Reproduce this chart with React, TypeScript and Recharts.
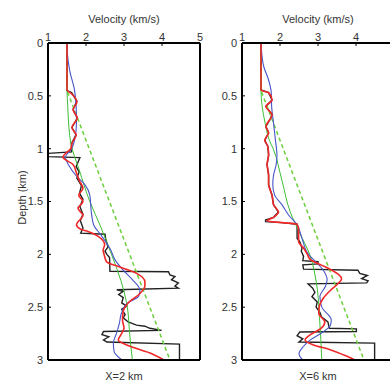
import React from 'react';
import { LineChart, Line, XAxis, YAxis, Label } from 'recharts';

// every point is [depth (km), velocity (km/s)]
type Pt = [number, number];

const velocityTicks = [1, 2, 3, 4, 5];
// the right panel is cut by the page edge just before its "5"
const velocityTicksCut = [1, 2, 3, 4];
const depthTicks = [0, 0.5, 1, 1.5, 2, 2.5, 3];

// X = 2 km
const x2Log: Pt[] = [
  [0, 1.5], [0.45, 1.5], [0.47, 1.62], [0.55, 1.76], [0.63, 1.66], [0.71, 1.77],
  [0.8, 1.63], [0.87, 1.74], [0.95, 1.62], [1.03, 1.62], [1.045, 1.0], [1.075, 1.0],
  [1.085, 1.84], [1.12, 1.8], [1.17, 1.74], [1.22, 1.82], [1.28, 1.76], [1.35, 1.88],
  [1.42, 1.83], [1.48, 1.92], [1.55, 1.84], [1.62, 1.92], [1.68, 1.85], [1.75, 1.92],
  [1.8, 1.86], [1.81, 2.5], [1.86, 2.52], [1.93, 2.58], [1.97, 2.5], [2.0, 2.55],
  [2.03, 2.62], [2.16, 2.63], [2.165, 4.17], [2.196, 4.21], [2.21, 4.34], [2.24, 4.25],
  [2.27, 4.43], [2.3, 4.34], [2.32, 4.43], [2.335, 2.81], [2.35, 2.98], [2.38, 2.86],
  [2.41, 2.98], [2.46, 2.94], [2.49, 3.07], [2.52, 2.94], [2.57, 3.03], [2.6, 2.98],
  [2.64, 3.11], [2.67, 3.33], [2.68, 3.55], [2.7, 3.68], [2.72, 3.99], [2.73, 2.46],
  [2.76, 2.42], [2.78, 2.6], [2.81, 2.46], [2.83, 2.55], [2.85, 4.46], [3.0, 4.46],
];
const x2Inverted: Pt[] = [
  [0, 1.5], [0.445, 1.5], [0.48, 1.62], [0.56, 1.76], [0.63, 1.66], [0.71, 1.77],
  [0.8, 1.63], [0.87, 1.74], [0.95, 1.63], [1.0, 1.6], [1.05, 1.45], [1.08, 1.39],
  [1.15, 1.66], [1.22, 1.74], [1.3, 1.82], [1.375, 1.92], [1.44, 1.81], [1.5, 1.92],
  [1.565, 1.79], [1.63, 1.92], [1.72, 1.75], [1.76, 1.85], [1.785, 2.05], [1.83, 2.32],
  [1.91, 2.49], [1.96, 2.45], [2.006, 2.48], [2.07, 2.54], [2.12, 2.89], [2.18, 3.33],
  [2.26, 3.55], [2.3, 3.55], [2.37, 3.42], [2.46, 3.11], [2.54, 2.98], [2.62, 2.96],
  [2.7, 3.0], [2.76, 2.92], [2.81, 2.85], [2.87, 3.16], [2.94, 3.73], [3.0, 4.05],
];
const x2Smooth: Pt[] = [
  [0, 1.5], [0.1, 1.51], [0.26, 1.57], [0.45, 1.7], [0.6, 1.74], [0.75, 1.75],
  [0.92, 1.7], [1.0, 1.62], [1.08, 1.46], [1.16, 1.55], [1.26, 1.75], [1.34, 1.97],
  [1.44, 2.1], [1.6, 2.14], [1.72, 2.2], [1.82, 2.4], [1.96, 2.65], [2.05, 2.76],
  [2.15, 2.98], [2.24, 3.22], [2.34, 3.42], [2.4, 3.38], [2.46, 3.1], [2.56, 2.93],
  [2.65, 2.88], [2.75, 2.8], [2.84, 2.72], [2.92, 2.74], [3.0, 2.95],
];
const x2Initial: Pt[] = [
  [0, 1.5], [0.45, 1.5], [0.6, 1.52], [0.8, 1.55], [0.95, 1.6], [1.2, 1.82],
  [1.5, 2.1], [1.75, 2.4], [2.0, 2.67], [2.25, 2.92], [2.46, 3.07], [2.8, 3.16],
  [3.0, 3.22],
];
const x2Trend: Pt[] = [[0, 1.5], [0.45, 1.5], [3.0, 4.21]];

// X = 6 km
const x6Log: Pt[] = [
  [0, 1.5], [0.445, 1.5], [0.47, 1.7], [0.54, 1.79], [0.6, 1.63], [0.68, 1.79],
  [0.72, 1.74], [0.79, 1.63], [0.85, 1.7], [0.92, 1.6], [0.98, 1.68], [1.06, 1.7],
  [1.15, 1.66], [1.25, 1.7], [1.34, 1.7], [1.44, 1.79], [1.53, 1.83], [1.6, 1.96],
  [1.65, 1.83], [1.675, 1.62], [1.69, 1.62], [1.7, 2.05], [1.715, 2.45], [1.85, 2.45],
  [1.88, 2.52], [1.94, 2.58], [1.97, 2.56], [2.02, 2.62], [2.06, 2.6], [2.07, 3.0],
  [2.09, 3.0], [2.1, 2.6], [2.14, 2.62], [2.15, 4.05], [2.18, 4.1], [2.2, 4.3],
  [2.23, 4.15], [2.25, 4.32], [2.27, 4.28], [2.28, 2.74], [2.32, 2.86], [2.36, 2.92],
  [2.4, 2.84], [2.45, 2.98], [2.5, 2.95], [2.55, 3.05], [2.59, 3.09], [2.64, 3.26],
  [2.7, 3.3], [2.705, 4.01], [2.73, 4.01], [2.735, 2.52], [2.77, 2.45], [2.8, 2.6],
  [2.83, 2.5], [2.84, 4.49], [3.0, 4.49],
];
const x6Inverted: Pt[] = [
  [0, 1.5], [0.445, 1.5], [0.47, 1.7], [0.54, 1.79], [0.6, 1.63], [0.68, 1.79],
  [0.72, 1.74], [0.79, 1.63], [0.85, 1.7], [0.92, 1.6], [0.98, 1.68], [1.06, 1.7],
  [1.15, 1.66], [1.25, 1.7], [1.34, 1.7], [1.44, 1.79], [1.53, 1.83], [1.6, 1.96],
  [1.65, 1.83], [1.685, 1.66], [1.7, 2.05], [1.715, 2.45], [1.77, 2.49], [1.88, 2.49],
  [1.94, 2.62], [2.0, 2.72], [2.05, 2.8], [2.12, 3.2], [2.18, 3.5], [2.23, 3.62],
  [2.27, 3.55], [2.34, 3.33], [2.42, 3.13], [2.5, 3.03], [2.56, 3.02], [2.64, 3.18],
  [2.7, 3.08], [2.76, 2.8], [2.81, 2.66], [2.86, 2.9], [2.9, 3.3], [2.97, 3.79],
  [3.0, 3.97],
];
const x6Smooth: Pt[] = [
  [0, 1.5], [0.1, 1.52], [0.22, 1.57], [0.35, 1.7], [0.47, 1.77], [0.6, 1.78],
  [0.76, 1.83], [0.92, 1.88], [1.06, 1.92], [1.15, 1.9], [1.25, 1.83], [1.34, 1.81],
  [1.44, 1.86], [1.53, 2.05], [1.63, 2.23], [1.72, 2.45], [1.85, 2.58], [2.0, 2.75],
  [2.05, 2.88], [2.15, 3.14], [2.24, 3.24], [2.3, 3.2], [2.4, 3.05], [2.5, 3.1],
  [2.62, 3.35], [2.67, 3.33], [2.73, 3.15], [2.81, 2.8], [2.87, 2.62], [2.94, 2.5],
  [3.0, 2.6],
];
const x6Initial: Pt[] = [
  [0, 1.5], [0.45, 1.5], [0.6, 1.53], [0.76, 1.61], [0.92, 1.72], [1.0, 1.82],
  [1.3, 2.05], [1.6, 2.27], [1.8, 2.52], [2.0, 2.78], [2.3, 2.97], [2.6, 3.04],
  [3.0, 3.1],
];
const x6Trend: Pt[] = [[0, 1.5], [0.45, 1.5], [3.0, 4.21]];

const toRows = (pts: Pt[]) => pts.map(([d, v]) => ({ d, v }));

const textColor = '#333';

const DepthLabel = (props: any) => {
  const { x, y, height } = props.viewBox;
  const cx = x + 14;
  const cy = y + height / 2 - 4;
  return (
    <text
      x={cx}
      y={cy}
      transform={`rotate(-90, ${cx}, ${cy})`}
      textAnchor="middle"
      dominantBaseline="central"
      fill={textColor}
      fontSize={11}
    >
      Depth (km)
    </text>
  );
};

interface PanelProps {
  left: number;
  caption: string;
  topTicks: number[];
  log: Pt[];
  inverted: Pt[];
  smooth: Pt[];
  initial: Pt[];
  trend: Pt[];
  showDepthLabel?: boolean;
}

const Panel: React.FC<PanelProps> = ({
  left,
  caption,
  topTicks,
  log,
  inverted,
  smooth,
  initial,
  trend,
  showDepthLabel,
}) => (
  <div style={{ position: 'absolute', left, top: 0 }}>
    <LineChart
      width={205}
      height={382}
      layout="vertical"
      margin={{ top: 13, right: 4, bottom: 21, left: 8 }}
    >
      <XAxis
        xAxisId="top"
        orientation="top"
        type="number"
        dataKey="v"
        domain={[1, 5]}
        ticks={topTicks}
        allowDataOverflow
        height={30}
        tickSize={-3}
        tickMargin={5}
        tick={{ fill: textColor, fontSize: 11 }}
        tickLine={{ stroke: '#000' }}
        axisLine={{ stroke: '#000', strokeWidth: 2 }}
      >
        <Label value="Velocity (km/s)" position="insideTop" offset={2} fill={textColor} fontSize={11} />
      </XAxis>
      <XAxis
        xAxisId="bottom"
        orientation="bottom"
        type="number"
        dataKey="v"
        domain={[1, 5]}
        ticks={velocityTicks}
        allowDataOverflow
        height={1}
        tickSize={-3}
        tick={false}
        tickLine={{ stroke: '#000' }}
        axisLine={{ stroke: '#000', strokeWidth: 2 }}
      >
        <Label value={caption} position="bottom" offset={11} fill={textColor} fontSize={11} />
      </XAxis>
      <YAxis
        yAxisId="left"
        type="number"
        dataKey="d"
        domain={[0, 3]}
        ticks={depthTicks}
        allowDataOverflow
        width={40}
        tickSize={-3}
        tickMargin={8}
        tick={{ fill: textColor, fontSize: 11 }}
        tickLine={{ stroke: '#000' }}
        axisLine={{ stroke: '#000', strokeWidth: 2 }}
      >
        {showDepthLabel && <Label content={DepthLabel} />}
      </YAxis>
      <YAxis
        yAxisId="right"
        orientation="right"
        type="number"
        dataKey="d"
        domain={[0, 3]}
        ticks={depthTicks}
        allowDataOverflow
        width={1}
        tickSize={-3}
        tick={false}
        tickLine={{ stroke: '#000' }}
        axisLine={{ stroke: '#000', strokeWidth: 2 }}
      />
      <Line
        xAxisId="top"
        yAxisId="left"
        data={toRows(log)}
        dataKey="v"
        type="linear"
        stroke="#222"
        strokeWidth={1.4}
        dot={false}
        activeDot={false}
        isAnimationActive={false}
      />
      <Line
        xAxisId="top"
        yAxisId="left"
        data={toRows(trend)}
        dataKey="v"
        type="linear"
        stroke="#6ccf3c"
        strokeWidth={1.5}
        strokeDasharray="4 3"
        dot={false}
        activeDot={false}
        isAnimationActive={false}
      />
      <Line
        xAxisId="top"
        yAxisId="left"
        data={toRows(initial)}
        dataKey="v"
        type="monotoneY"
        stroke="#3cbf34"
        strokeWidth={1}
        dot={false}
        activeDot={false}
        isAnimationActive={false}
      />
      <Line
        xAxisId="top"
        yAxisId="left"
        data={toRows(smooth)}
        dataKey="v"
        type="monotoneY"
        stroke="#4656c8"
        strokeWidth={1.1}
        dot={false}
        activeDot={false}
        isAnimationActive={false}
      />
      <Line
        xAxisId="top"
        yAxisId="left"
        data={toRows(inverted)}
        dataKey="v"
        type="monotoneY"
        stroke="#f02828"
        strokeWidth={1.6}
        dot={false}
        activeDot={false}
        isAnimationActive={false}
      />
    </LineChart>
  </div>
);

export default function App() {
  return (
    <div
      style={{
        position: 'absolute',
        left: 0,
        top: 0,
        width: 390,
        height: 382,
        overflow: 'hidden',
        background: '#fff',
        fontFamily: '"Liberation Sans", Arial, sans-serif',
      }}
    >
      <Panel
        left={0}
        caption="X=2 km"
        topTicks={velocityTicks}
        log={x2Log}
        inverted={x2Inverted}
        smooth={x2Smooth}
        initial={x2Initial}
        trend={x2Trend}
        showDepthLabel
      />
      <Panel
        left={194}
        caption="X=6 km"
        topTicks={velocityTicksCut}
        log={x6Log}
        inverted={x6Inverted}
        smooth={x6Smooth}
        initial={x6Initial}
        trend={x6Trend}
      />
    </div>
  );
}
